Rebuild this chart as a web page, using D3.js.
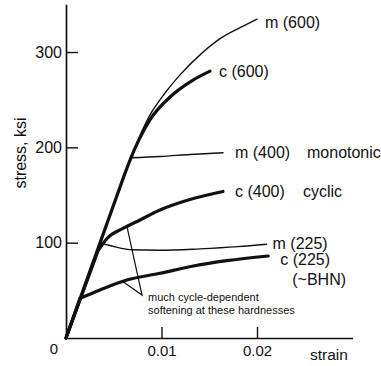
<!DOCTYPE html>
<html><head><meta charset="utf-8">
<script src="https://cdn.jsdelivr.net/npm/d3@7"></script>
<style>
html,body{margin:0;padding:0;background:#fff;}
svg{display:block;font-family:"Liberation Sans",Arial,Helvetica,sans-serif;}
</style>
</head><body>
<svg id="chart" width="381" height="366"></svg>
<script>
// ---- data (strain, stress ksi) ----
const strainTicks = [0.01, 0.02];
const stressTicks = [100, 200, 300];
const seriesLabels = ["m (600)", "c (600)", "m (400)", "c (400)", "m (225)", "c (225)"];
const m600 = [[0,0],[0.006,168],[0.0068,189.5],[0.0076,209],[0.0088,234],[0.01037,257],[0.01194,276],[0.01403,297],[0.01613,314],[0.01822,325.5],[0.0200,334.6]];
const c600 = [[0,0],[0.006,168],[0.0068,189],[0.0076,207],[0.0088,229],[0.01089,252.8],[0.0133,270.6],[0.01508,280]];
const m400 = [[0,0],[0.0068,189],[0.00984,190.4],[0.013,192.5],[0.01644,194.4]];
const c400 = [[0,0],[0.00335,91.3],[0.00429,104.4],[0.00597,114.9],[0.00775,123.8],[0.00984,134.3],[0.01298,145.3],[0.01644,153.7]];
const m225 = [[0,0],[0.00355,99.5],[0.0046,97],[0.0058,94],[0.0069,92.5],[0.0098,92],[0.014,93.5],[0.0180,95.8],[0.0210,98.3]];
const c225 = [[0,0],[0.001466,41.6],[0.00356,50.4],[0.00636,60.8],[0.00984,67.9],[0.01333,75.5],[0.01683,81.1],[0.02118,86.0]];
const noteLines = ["much cycle-dependent", "softening at these hardnesses"];
const notePointer = [[0.00639,116.5],[0.00796,45.1],[0.0059,59.5]];
const extraLabels = ["monotonic", "cyclic", "(~BHN)"];

const series = [
  {pts: m600, thick: false, label: seriesLabels[0], dx: 8, dy: 3},
  {pts: c600, thick: true,  label: seriesLabels[1], dx: 9, dy: 0},
  {pts: m400, thick: false, label: seriesLabels[2], dx: 12, dy: 0},
  {pts: c400, thick: true,  label: seriesLabels[3], dx: 12, dy: 0},
  {pts: m225, thick: false, label: seriesLabels[4], dx: 6, dy: -1},
  {pts: c225, thick: true,  label: seriesLabels[5], dx: 12, dy: 3}
];

const svg = d3.select("#chart");
const x = d3.scaleLinear().domain([0, 0.03]).range([66, 352.5]);
const y = d3.scaleLinear().domain([0, 350]).range([338, 4.35]);
const ink = "#111";

// axes
const gx = svg.append("g").attr("transform", "translate(0,338)")
  .call(d3.axisBottom(x).tickValues(strainTicks).tickFormat(d3.format(".2f"))
    .tickSizeInner(-11).tickSizeOuter(0).tickPadding(7));
gx.select(".domain").attr("stroke", ink).attr("stroke-width", 1.7);
gx.selectAll(".tick line").attr("stroke", ink).attr("stroke-width", 1.4);
gx.selectAll(".tick text").attr("font-size", 15).attr("fill", ink);

const gy = svg.append("g").attr("transform", "translate(66,0)")
  .call(d3.axisLeft(y).tickValues(stressTicks)
    .tickSizeInner(-12).tickSizeOuter(0).tickPadding(4));
gy.select(".domain").attr("stroke", ink).attr("stroke-width", 1.7);
gy.selectAll(".tick line").attr("stroke", ink).attr("stroke-width", 1.4);
gy.selectAll(".tick text").attr("font-size", 16).attr("fill", ink);
gx.attr("font-family", null); gy.attr("font-family", null);

// origin label and axis titles
svg.append("text").attr("x", x(0) - 12).attr("y", y(0) + 15.5)
  .attr("text-anchor", "middle").attr("font-size", 15).attr("fill", ink).text("0");
svg.append("text").attr("x", 310).attr("y", 360)
  .attr("font-size", 15.5).attr("fill", ink).text("strain");
svg.append("text").attr("transform", "translate(20,153) rotate(-90)")
  .attr("text-anchor", "middle").attr("dominant-baseline", "central")
  .attr("font-size", 16).attr("fill", ink).text("stress, ksi");

// curves: straight elastic segment then smooth plastic part
function pathFor(pts) {
  const p = pts.map(d => [x(d[0]), y(d[1])]);
  const rest = d3.line().curve(d3.curveMonotoneX)(p.slice(1));
  return `M${p[0][0]},${p[0][1]}L` + rest.slice(1);
}
const order = [1, 3, 5, 0, 2, 4];
order.forEach(i => {
  const s = series[i];
  svg.append("path").attr("d", pathFor(s.pts)).attr("fill", "none")
    .attr("stroke", ink).attr("stroke-width", s.thick ? 3.2 : 1.4)
    .attr("stroke-linecap", "round").attr("stroke-linejoin", "round");
});

// curve labels
const labelPos = series.map(s => {
  const e = s.pts[s.pts.length - 1];
  return [x(e[0]) + s.dx, y(e[1]) + s.dy];
});
series.forEach((s, i) => {
  svg.append("text").attr("x", labelPos[i][0]).attr("y", labelPos[i][1])
    .attr("dominant-baseline", "central").attr("font-size", 16).attr("fill", ink).text(s.label);
});
svg.append("text").attr("x", labelPos[2][0] + 72).attr("y", labelPos[2][1])
  .attr("dominant-baseline", "central").attr("font-size", 16).attr("fill", ink).text(extraLabels[0]);
svg.append("text").attr("x", labelPos[3][0] + 68).attr("y", labelPos[3][1])
  .attr("dominant-baseline", "central").attr("font-size", 16).attr("fill", ink).text(extraLabels[1]);
svg.append("text").attr("x", labelPos[5][0] + 12).attr("y", labelPos[5][1] + 20)
  .attr("dominant-baseline", "central").attr("font-size", 16).attr("fill", ink).text(extraLabels[2]);

// annotation
svg.append("path")
  .attr("d", d3.line()(notePointer.map(d => [x(d[0]), y(d[1])])))
  .attr("fill", "none").attr("stroke", ink).attr("stroke-width", 1.2);
const apex = [x(notePointer[1][0]), y(notePointer[1][1])];
noteLines.forEach((t, i) => {
  svg.append("text").attr("x", apex[0] + 6).attr("y", apex[1] + 2 + i * 13)
    .attr("dominant-baseline", "central").attr("font-size", 11).attr("fill", ink).text(t);
});
</script>
</body></html>
